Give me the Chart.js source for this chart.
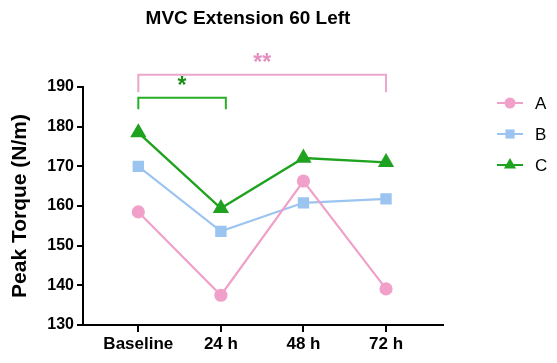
<!DOCTYPE html>
<html>
<head>
<meta charset="utf-8">
<script src="https://cdn.jsdelivr.net/npm/chart.js@4.4.0/dist/chart.umd.min.js"></script>
<style>
  html, body { margin: 0; padding: 0; background: #fff; }
  #wrap { width: 557px; height: 363px; }
</style>
</head>
<body>
<div id="wrap"><canvas id="myChart" width="557" height="363"></canvas></div>
<script>
const timePoints = ["Baseline", "24 h", "48 h", "72 h"];
const seriesA = [158.5, 137.5, 166.3, 139.1];
const seriesB = [170.0, 153.6, 160.8, 161.8];
const seriesC = [178.5, 159.4, 172.1, 171.0];
const yTicks = [130, 140, 150, 160, 170, 180, 190];

// significance brackets: from / to index, bar level, leg bottom, label level (data units)
const sigBars = [
  { from: 0, to: 3, top: 193.1, foot: 188.7, label: "**", labelY: 197.4, color: "#EBA6CB", textColor: "#E58FC0" },
  { from: 0, to: 1.06, top: 187.3, foot: 184.4, label: "*", labelY: 191.6, color: "#27B027", textColor: "#1A8F1A" },
];

const pink = "#F0A0C9";
const blue = "#9CC4F0";
const green = "#1FA21F";

const toPoints = (arr) => arr.map((v, i) => ({ x: i, y: v }));

const extrasPlugin = {
  id: "extras",
  afterDraw(chart) {
    const ctx = chart.ctx;
    const xs = chart.scales.x;
    const ys = chart.scales.y;
    const area = chart.chartArea;

    // title
    ctx.save();
    ctx.fillStyle = "#000";
    ctx.font = "bold 19px 'Liberation Sans', Arial, sans-serif";
    ctx.textAlign = "center";
    ctx.textBaseline = "middle";
    ctx.fillText("MVC Extension 60 Left", (area.left + area.right) / 2 - 15, 19);
    ctx.restore();

    // brackets
    sigBars.forEach((b) => {
      const x1 = xs.getPixelForValue(b.from);
      const x2 = xs.getPixelForValue(b.to);
      const yt = ys.getPixelForValue(b.top);
      const yf = ys.getPixelForValue(b.foot);
      ctx.save();
      ctx.strokeStyle = b.color;
      ctx.lineWidth = 2;
      ctx.beginPath();
      ctx.moveTo(x1, yf);
      ctx.lineTo(x1, yt);
      ctx.lineTo(x2, yt);
      ctx.lineTo(x2, yf);
      ctx.stroke();
      ctx.fillStyle = b.textColor;
      ctx.font = "bold 23px 'Liberation Sans', Arial, sans-serif";
      ctx.textAlign = "center";
      ctx.textBaseline = "alphabetic";
      ctx.fillText(b.label, (x1 + x2) / 2, ys.getPixelForValue(b.labelY) + 12);
      ctx.restore();
    });

    // legend
    const lx = 497, rowY = [103, 134, 165];
    chart.data.datasets.forEach((ds, i) => {
      const y = rowY[i];
      ctx.save();
      ctx.strokeStyle = ds.borderColor;
      ctx.lineWidth = 2;
      ctx.beginPath();
      ctx.moveTo(lx, y);
      ctx.lineTo(lx + 26, y);
      ctx.stroke();
      ctx.fillStyle = ds.backgroundColor;
      Chart.helpers.drawPoint(ctx, { pointStyle: ds.pointStyle, radius: ds.pointRadius, rotation: 0, borderWidth: 0 }, lx + 13, y);
      ctx.fillStyle = "#000";
      ctx.font = "17px 'Liberation Sans', Arial, sans-serif";
      ctx.textAlign = "left";
      ctx.textBaseline = "middle";
      ctx.fillText(ds.label, 535, y + 1);
      ctx.restore();
    });
  },
};

const ctx = document.getElementById("myChart").getContext("2d");
const myChart = new Chart(ctx, {
  type: "line",
  data: {
    datasets: [
      {
        label: "A",
        data: toPoints(seriesA),
        borderColor: pink,
        backgroundColor: pink,
        pointStyle: "circle",
        pointRadius: 5.5,
        borderWidth: 2.2,
      },
      {
        label: "B",
        data: toPoints(seriesB),
        borderColor: blue,
        backgroundColor: blue,
        pointStyle: "rect",
        pointRadius: 6.5,
        borderWidth: 2.2,
      },
      {
        label: "C",
        data: toPoints(seriesC),
        borderColor: green,
        backgroundColor: green,
        pointStyle: "triangle",
        pointRadius: 7,
        borderWidth: 2.4,
      },
    ],
  },
  options: {
    responsive: false,
    animation: false,
    layout: { padding: { top: 87, right: 114, bottom: 0, left: 0 } },
    elements: { point: { borderWidth: 0, hoverRadius: 6 } },
    plugins: {
      legend: { display: false },
      title: { display: false },
      tooltip: { enabled: false },
    },
    scales: {
      x: {
        type: "linear",
        min: -0.67,
        max: 3.69,
        afterBuildTicks: (scale) => {
          scale.ticks = timePoints.map((_, i) => ({ value: i }));
        },
        afterFit: (scale) => { scale.height = 38; },
        ticks: {
          callback: (v) => timePoints[v],
          color: "#000",
          font: { family: "'Liberation Sans', Arial, sans-serif", size: 17, weight: "bold" },
          padding: 2,
          maxRotation: 0,
        },
        grid: { drawOnChartArea: false, color: "#000", lineWidth: 2, tickLength: 7 },
        border: { color: "#000", width: 2 },
      },
      y: {
        min: 130,
        max: 190,
        afterBuildTicks: (scale) => {
          scale.ticks = yTicks.map((v) => ({ value: v }));
        },
        afterFit: (scale) => { scale.width = 83; },
        ticks: {
          color: "#000",
          font: { family: "'Liberation Sans', Arial, sans-serif", size: 16, weight: "bold" },
          padding: 3,
        },
        grid: { drawOnChartArea: false, color: "#000", lineWidth: 2, tickLength: 6 },
        border: { color: "#000", width: 2 },
        title: {
          display: true,
          text: "Peak Torque (N/m)",
          color: "#000",
          font: { family: "'Liberation Sans', Arial, sans-serif", size: 21, weight: "bold" },
          padding: { top: 8, bottom: 0 },
        },
      },
    },
  },
  plugins: [extrasPlugin],
});
</script>
</body>
</html>
